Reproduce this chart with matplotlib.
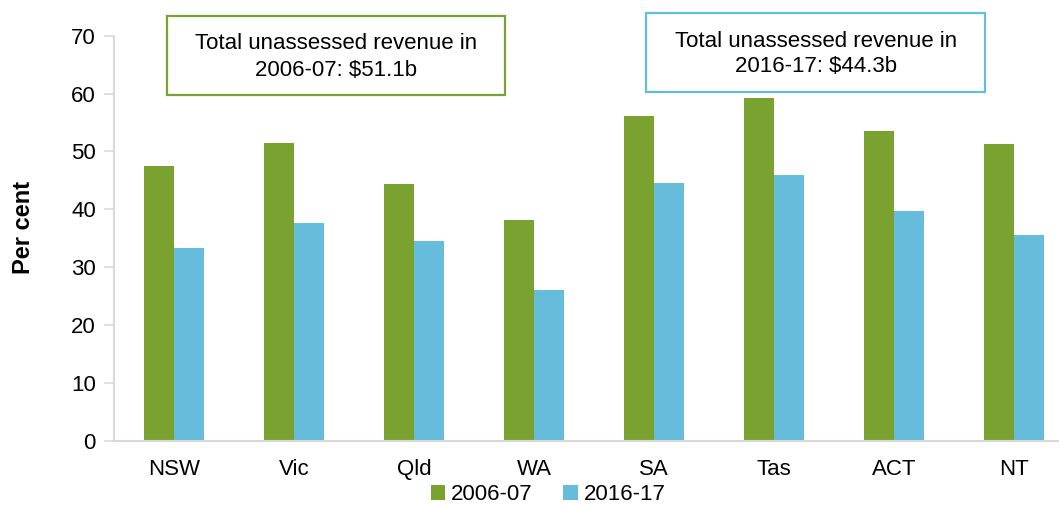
import matplotlib
matplotlib.use("Agg")
import matplotlib.pyplot as plt
from matplotlib.patches import Rectangle, Patch
import numpy as np

plt.rcParams['font.family'] = ['Liberation Sans', 'DejaVu Sans']

categories = ["NSW", "Vic", "Qld", "WA", "SA", "Tas", "ACT", "NT"]
series_labels = ["2006-07", "2016-17"]
v2006 = [47.5, 51.4, 44.4, 38.1, 56.1, 59.2, 53.6, 51.3]
v2016 = [33.3, 37.6, 34.6, 26.0, 44.5, 45.9, 39.7, 35.5]
box_texts = ["Total unassessed revenue in\n2006-07: $51.1b",
             "Total unassessed revenue in\n2016-17: $44.3b"]

green = "#79A231"
blue = "#66BCDB"
W, H = 1059, 505

fig = plt.figure(figsize=(W/100, H/100), dpi=100)
ax = fig.add_axes([114/W, 1-440.7/H, (W-114)/W, (440.7-35.7)/H])

x = np.arange(len(categories))
bw = 0.25
ax.bar(x - bw/2, v2006, bw, color=green, label=series_labels[0])
ax.bar(x + bw/2, v2016, bw, color=blue, label=series_labels[1])

ax.set_xlim(-0.5, 7.375)
ax.set_ylim(0, 70)
ax.set_yticks(range(0, 71, 10))
ax.set_xticks(x)
ax.set_xticklabels(categories)
for s in ["top", "right"]:
    ax.spines[s].set_visible(False)
for s in ["left", "bottom"]:
    ax.spines[s].set_color("#d9d9d9")
    ax.spines[s].set_linewidth(1.5)
ax.tick_params(axis='y', length=7, width=1.2, color="#d9d9d9", labelsize=16, pad=6)
ax.tick_params(axis='x', length=0, labelsize=16, pad=13)
ax.set_ylabel("Per cent", fontsize=17, fontweight='bold')
ax.yaxis.set_label_coords(-(114-35)/(W-114), (440.7-227)/(440.7-35.7))

# annotation boxes
boxes = [((166.7, 16, 505.3, 95), green, (336, 43.5, 70)),
         ((646.3, 13.3, 985.3, 92.3), blue, (815.8, 41.7, 66.7))]
for ((x0, y0, x1, y1), col, (tx, ty1, ty2)), txt in zip(boxes, box_texts):
    fig.patches.append(Rectangle((x0/W, 1-y1/H), (x1-x0)/W, (y1-y0)/H,
                                 transform=fig.transFigure, fill=True, facecolor="white",
                                 edgecolor=col, linewidth=1.6))
    l1, l2 = txt.split("\n")
    fig.text(tx/W, 1-ty1/H, l1, ha='center', va='center', fontsize=16)
    fig.text(tx/W, 1-ty2/H, l2, ha='center', va='center', fontsize=16)

handles = [Patch(facecolor=green), Patch(facecolor=blue)]
fig.legend(handles, series_labels, loc='center', bbox_to_anchor=(548/W, 1-494.5/H),
           ncol=2, frameon=False, fontsize=16, handlelength=0.65, handleheight=0.65,
           handletextpad=0.25, columnspacing=1.4, borderaxespad=0, borderpad=0)

fig.savefig("out.png", dpi=100)
